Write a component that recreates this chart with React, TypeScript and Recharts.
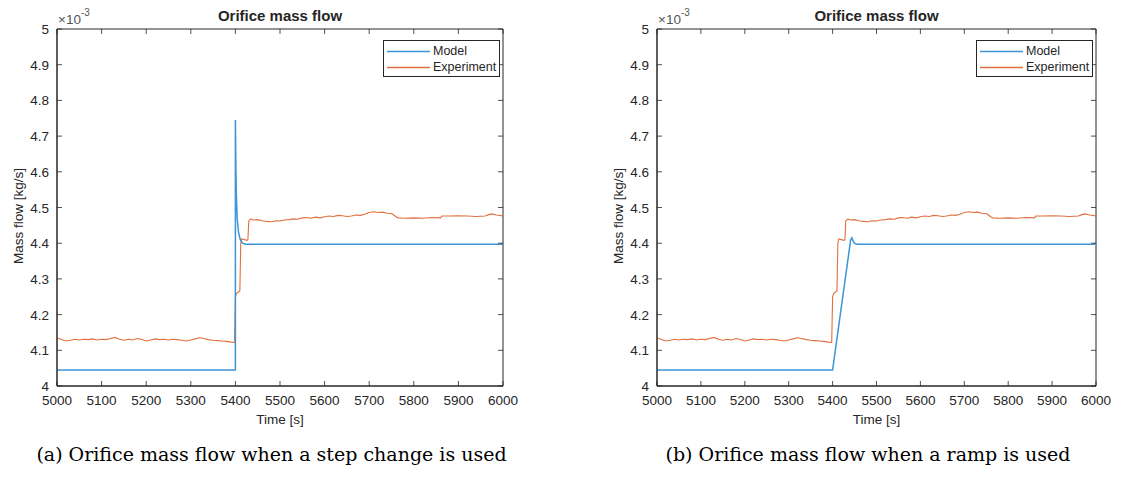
import React from 'react';
import { LineChart, Line, XAxis, YAxis, ReferenceArea } from 'recharts';

// time axis ticks [s] and mass flow ticks [x 1e-3 kg/s]
const timeTicks = [5000, 5100, 5200, 5300, 5400, 5500, 5600, 5700, 5800, 5900, 6000];
const flowTicks = [4, 4.1, 4.2, 4.3, 4.4, 4.5, 4.6, 4.7, 4.8, 4.9, 5];

// model, step change
const stepModelTime = [5000, 5400, 5400, 5401, 5402, 5404, 5407, 5411, 5416, 5422, 5430, 5990, 5998, 6000];
const stepModelFlow = [4.045, 4.045, 4.745, 4.62, 4.54, 4.47, 4.43, 4.41, 4.4, 4.397, 4.397, 4.397, 4.397, 4.401];

// model, ramp
const rampModelTime = [5000, 5400, 5441, 5444, 5447, 5451, 5456, 5465, 5990, 5998, 6000];
const rampModelFlow = [4.045, 4.045, 4.408, 4.415, 4.405, 4.399, 4.397, 4.397, 4.397, 4.397, 4.401];

// measured orifice mass flow (same run in both panels)
const expTime = [
  5000, 5010, 5020, 5030, 5040, 5050, 5060, 5070, 5080, 5090,
  5100, 5110, 5120, 5130, 5140, 5150, 5160, 5170, 5180, 5190,
  5200, 5210, 5220, 5230, 5240, 5250, 5260, 5270, 5280, 5290,
  5300, 5310, 5320, 5330, 5340, 5350, 5360, 5370, 5380, 5390, 5398,
  5400, 5402, 5405, 5410, 5412, 5414, 5420, 5426, 5428, 5430, 5435,
  5440, 5450, 5460, 5470, 5480, 5490, 5500, 5510, 5520, 5530, 5540, 5550,
  5560, 5570, 5580, 5590, 5600, 5610, 5620, 5630, 5640, 5650, 5660, 5670,
  5680, 5690, 5700, 5710, 5720, 5730, 5740, 5750, 5755, 5760, 5765, 5780,
  5800, 5820, 5840, 5860, 5863, 5880, 5900, 5920, 5940, 5960, 5968, 5975,
  5985, 5993, 6000,
];
const expFlow = [
  4.135, 4.130, 4.126, 4.128, 4.131, 4.129, 4.131, 4.130, 4.132, 4.129,
  4.131, 4.130, 4.133, 4.136, 4.131, 4.128, 4.131, 4.129, 4.133, 4.130,
  4.126, 4.129, 4.132, 4.130, 4.131, 4.129, 4.131, 4.130, 4.128, 4.126,
  4.129, 4.132, 4.135, 4.133, 4.130, 4.128, 4.127, 4.126, 4.125, 4.123, 4.122,
  4.25, 4.258, 4.262, 4.266, 4.40, 4.412, 4.41, 4.408, 4.41, 4.462, 4.468,
  4.465, 4.466, 4.463, 4.461, 4.46, 4.463, 4.462, 4.465, 4.466, 4.468, 4.467, 4.471,
  4.472, 4.47, 4.473, 4.471, 4.474, 4.476, 4.475, 4.478, 4.477, 4.475, 4.476, 4.479,
  4.478, 4.481, 4.486, 4.488, 4.486, 4.487, 4.484, 4.483, 4.479, 4.474, 4.471, 4.47,
  4.471, 4.47, 4.472, 4.471, 4.476, 4.476, 4.477, 4.476, 4.475, 4.476, 4.48, 4.482,
  4.479, 4.478, 4.476,
];

const MODEL_COLOR = '#3d94d6';
const EXP_COLOR = '#e0703f';
const AXIS_COLOR = '#262626';
const FONT = '"Liberation Sans", Arial, sans-serif';

const PLOT_TOP = 29;
const PLOT_HEIGHT = 357;
const Y_AXIS_W = 57;
const X_AXIS_H = 44;

const toPoints = (t: number[], v: number[]) => t.map((time, i) => ({ time, flow: v[i] }));

const makeTimeTick = (plotBottom: number) => ({ x, y, payload }: any) => (
  <g>
    <line x1={x} x2={x} y1={plotBottom} y2={plotBottom - 5} stroke={AXIS_COLOR} strokeWidth={0.8} />
    <line x1={x} x2={x} y1={PLOT_TOP} y2={PLOT_TOP + 5} stroke={AXIS_COLOR} strokeWidth={0.8} />
    <text x={x} y={y} dy={11} textAnchor="middle" fill={AXIS_COLOR} fontSize={13.5} fontFamily={FONT}>
      {payload.value}
    </text>
  </g>
);

const makeFlowTick = (plotLeft: number, plotRight: number) => ({ x, y, payload }: any) => (
  <g>
    <line x1={plotLeft} x2={plotLeft + 5} y1={y} y2={y} stroke={AXIS_COLOR} strokeWidth={0.8} />
    <line x1={plotRight} x2={plotRight - 5} y1={y} y2={y} stroke={AXIS_COLOR} strokeWidth={0.8} />
    <text x={x} y={y} dy={5} textAnchor="end" fill={AXIS_COLOR} fontSize={13.5} fontFamily={FONT}>
      {payload.value}
    </text>
  </g>
);

interface PanelProps {
  left: number;
  plotWidth: number;
  model: { time: number; flow: number }[];
  caption: string;
}

function OrificePanel({ left, plotWidth, model, caption }: PanelProps) {
  const width = Y_AXIS_W + plotWidth + 30;
  const height = PLOT_TOP + PLOT_HEIGHT + X_AXIS_H;
  const plotLeft = Y_AXIS_W;
  const plotRight = Y_AXIS_W + plotWidth;
  const plotBottom = PLOT_TOP + PLOT_HEIGHT;
  const experiment = toPoints(expTime, expFlow);
  const legendItems = [
    { name: 'Model', color: MODEL_COLOR },
    { name: 'Experiment', color: EXP_COLOR },
  ];

  return (
    <div style={{ position: 'absolute', left, top: 0, width, height: 477, fontFamily: FONT, color: AXIS_COLOR }}>
      <LineChart width={width} height={height} margin={{ top: PLOT_TOP, right: width - plotRight, left: 0, bottom: 0 }}>
        <XAxis
          dataKey="time"
          type="number"
          domain={[5000, 6000]}
          ticks={timeTicks}
          tickLine={false}
          axisLine={{ stroke: AXIS_COLOR }}
          height={X_AXIS_H}
          tick={makeTimeTick(plotBottom)}
          allowDuplicatedCategory={false}
        />
        <YAxis
          dataKey="flow"
          type="number"
          domain={[4, 5]}
          ticks={flowTicks}
          tickLine={false}
          axisLine={{ stroke: AXIS_COLOR }}
          width={Y_AXIS_W}
          tick={makeFlowTick(plotLeft, plotRight)}
        />
        <ReferenceArea x1={5000} x2={6000} y1={4} y2={5} fill="none" stroke={AXIS_COLOR} strokeWidth={1} />
        <Line data={experiment} dataKey="flow" stroke={EXP_COLOR} strokeWidth={1.1} dot={false} isAnimationActive={false} />
        <Line data={model} dataKey="flow" stroke={MODEL_COLOR} strokeWidth={1.5} dot={false} isAnimationActive={false} />
      </LineChart>

      <div style={{ position: 'absolute', left: plotLeft, width: plotWidth, top: 7, textAlign: 'center', fontWeight: 'bold', fontSize: 15 }}>
        Orifice mass flow
      </div>
      <div style={{ position: 'absolute', left: plotLeft + 1, top: 12, fontSize: 13.5, color: '#555' }}>
        ×10<sup style={{ fontSize: 10, verticalAlign: 'top', position: 'relative', top: -5 }}>-3</sup>
      </div>
      <div
        style={{
          position: 'absolute', left: 18, top: 216, fontSize: 13.5,
          transform: 'translate(-50%, -50%) rotate(-90deg)', whiteSpace: 'nowrap',
        }}
      >
        Mass flow [kg/s]
      </div>
      <div style={{ position: 'absolute', left: plotLeft, width: plotWidth, top: 412, textAlign: 'center', fontSize: 13.5 }}>
        Time [s]
      </div>
      <div
        style={{
          position: 'absolute', left: plotRight - 120, top: 40, width: 117, height: 37, boxSizing: 'border-box',
          border: `1px solid ${AXIS_COLOR}`, background: '#fff', fontSize: 12.5,
        }}
      >
        {legendItems.map((item, i) => (
          <div key={item.name} style={{ position: 'absolute', left: 3, top: 3 + i * 16, display: 'flex', alignItems: 'center' }}>
            <svg width={43} height={15} style={{ display: 'block' }}>
              <line x1={0} x2={43} y1={7.5} y2={7.5} stroke={item.color} strokeWidth={1.5} />
            </svg>
            <span style={{ marginLeft: 3, lineHeight: '15px' }}>{item.name}</span>
          </div>
        ))}
      </div>
      <div
        style={{
          position: 'absolute', left: 0, width: width + 10, top: 443, textAlign: 'center',
          fontFamily: '"DejaVu Serif", "Liberation Serif", serif', fontSize: 19, color: '#000',
        }}
      >
        {caption}
      </div>
    </div>
  );
}

export default function App() {
  return (
    <div style={{ position: 'absolute', left: 0, top: 0, width: 1130, height: 477, background: '#fff', overflow: 'hidden' }}>
      <OrificePanel left={0} plotWidth={446} model={toPoints(stepModelTime, stepModelFlow)} caption="(a) Orifice mass flow when a step change is used" />
      <OrificePanel left={600} plotWidth={439} model={toPoints(rampModelTime, rampModelFlow)} caption="(b) Orifice mass flow when a ramp is used" />
    </div>
  );
}
